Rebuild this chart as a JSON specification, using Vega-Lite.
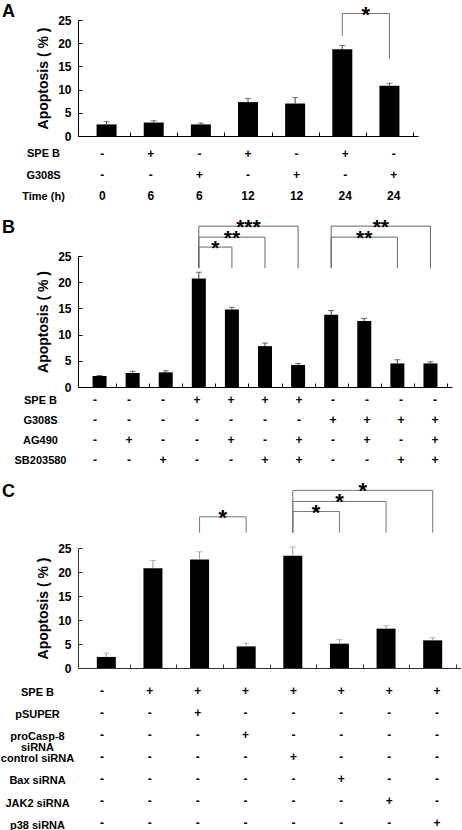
{
  "$schema": "https://vega.github.io/schema/vega-lite/v6.json",
  "padding": {"left": 0, "top": 2, "right": 0, "bottom": 0},
  "background": "white",
  "bounds": "flush",
  "spacing": 0,
  "resolve": {"scale": {"x": "independent", "y": "independent"}},
  "config": {
    "font": "Liberation Sans",
    "view": {"stroke": null},
    "axis": {"grid": false, "labelOverlap": false, "labelFont": "Liberation Sans", "labelFontWeight": "bold", "labelFontSize": 12, "labelColor": "black", "domainColor": "black", "tickColor": "black", "titleFont": "Liberation Sans", "titleFontWeight": "bold", "titleFontSize": 14, "titleColor": "black"},
    "title": {"font": "Liberation Sans", "fontWeight": "bold", "fontSize": 18, "color": "black", "anchor": "start", "frame": "group"}
  },
  "datasets": {
    "A": [
      {"pos": 1, "SPE B": "-", "G308S": "-", "Time (h)": "0", "value": 2.5, "upper": 3.1},
      {"pos": 2, "SPE B": "+", "G308S": "-", "Time (h)": "6", "value": 2.9, "upper": 3.3},
      {"pos": 3, "SPE B": "-", "G308S": "+", "Time (h)": "6", "value": 2.5, "upper": 2.8},
      {"pos": 4, "SPE B": "+", "G308S": "-", "Time (h)": "12", "value": 7.3, "upper": 8.1},
      {"pos": 5, "SPE B": "-", "G308S": "+", "Time (h)": "12", "value": 7.0, "upper": 8.3},
      {"pos": 6, "SPE B": "+", "G308S": "-", "Time (h)": "24", "value": 18.7, "upper": 19.5},
      {"pos": 7, "SPE B": "-", "G308S": "+", "Time (h)": "24", "value": 10.85, "upper": 11.35}
    ],
    "B": [
      {"pos": 1, "SPE B": "-", "G308S": "-", "AG490": "-", "SB203580": "-", "value": 2.1, "upper": 2.2},
      {"pos": 2, "SPE B": "-", "G308S": "-", "AG490": "+", "SB203580": "-", "value": 2.67, "upper": 3.0},
      {"pos": 3, "SPE B": "-", "G308S": "-", "AG490": "-", "SB203580": "+", "value": 2.8, "upper": 3.1},
      {"pos": 4, "SPE B": "+", "G308S": "-", "AG490": "-", "SB203580": "-", "value": 20.7, "upper": 21.9},
      {"pos": 5, "SPE B": "+", "G308S": "-", "AG490": "+", "SB203580": "-", "value": 14.8, "upper": 15.2},
      {"pos": 6, "SPE B": "+", "G308S": "-", "AG490": "-", "SB203580": "+", "value": 7.8, "upper": 8.4},
      {"pos": 7, "SPE B": "+", "G308S": "-", "AG490": "+", "SB203580": "+", "value": 4.2, "upper": 4.5},
      {"pos": 8, "SPE B": "-", "G308S": "+", "AG490": "-", "SB203580": "-", "value": 13.8, "upper": 14.6},
      {"pos": 9, "SPE B": "-", "G308S": "+", "AG490": "+", "SB203580": "-", "value": 12.6, "upper": 13.1},
      {"pos": 10, "SPE B": "-", "G308S": "+", "AG490": "-", "SB203580": "+", "value": 4.5, "upper": 5.2},
      {"pos": 11, "SPE B": "-", "G308S": "+", "AG490": "+", "SB203580": "+", "value": 4.5, "upper": 4.8}
    ],
    "C": [
      {"pos": 1, "SPE B": "-", "pSUPER": "-", "proCasp-8 siRNA": "-", "control siRNA": "-", "Bax siRNA": "-", "JAK2 siRNA": "-", "p38 siRNA": "-", "value": 2.3, "upper": 3.1},
      {"pos": 2, "SPE B": "+", "pSUPER": "-", "proCasp-8 siRNA": "-", "control siRNA": "-", "Bax siRNA": "-", "JAK2 siRNA": "-", "p38 siRNA": "-", "value": 20.8, "upper": 22.4},
      {"pos": 3, "SPE B": "+", "pSUPER": "+", "proCasp-8 siRNA": "-", "control siRNA": "-", "Bax siRNA": "-", "JAK2 siRNA": "-", "p38 siRNA": "-", "value": 22.6, "upper": 24.2},
      {"pos": 4, "SPE B": "+", "pSUPER": "-", "proCasp-8 siRNA": "+", "control siRNA": "-", "Bax siRNA": "-", "JAK2 siRNA": "-", "p38 siRNA": "-", "value": 4.5, "upper": 5.2},
      {"pos": 5, "SPE B": "+", "pSUPER": "-", "proCasp-8 siRNA": "-", "control siRNA": "+", "Bax siRNA": "-", "JAK2 siRNA": "-", "p38 siRNA": "-", "value": 23.4, "upper": 25.2},
      {"pos": 6, "SPE B": "+", "pSUPER": "-", "proCasp-8 siRNA": "-", "control siRNA": "-", "Bax siRNA": "+", "JAK2 siRNA": "-", "p38 siRNA": "-", "value": 5.07, "upper": 5.9},
      {"pos": 7, "SPE B": "+", "pSUPER": "-", "proCasp-8 siRNA": "-", "control siRNA": "-", "Bax siRNA": "-", "JAK2 siRNA": "+", "p38 siRNA": "-", "value": 8.2, "upper": 8.8},
      {"pos": 8, "SPE B": "+", "pSUPER": "-", "proCasp-8 siRNA": "-", "control siRNA": "-", "Bax siRNA": "-", "JAK2 siRNA": "-", "p38 siRNA": "+", "value": 5.76, "upper": 6.3}
    ],
    "rowsA": [{"row": "SPE B", "idx": 1}, {"row": "G308S", "idx": 2}, {"row": "Time (h)", "idx": 3}],
    "rowsB": [{"row": "SPE B", "idx": 1}, {"row": "G308S", "idx": 2}, {"row": "AG490", "idx": 3}, {"row": "SB203580", "idx": 4}],
    "rowsC": [{"row": "SPE B", "idx": 1}, {"row": "pSUPER", "idx": 2}, {"row": "proCasp-8 siRNA", "idx": 3}, {"row": "control siRNA", "idx": 4}, {"row": "Bax siRNA", "idx": 5}, {"row": "JAK2 siRNA", "idx": 6}, {"row": "p38 siRNA", "idx": 7}],
    "sigA": [
      {"from": 6, "to": 7, "top": 26.4, "leftEnd": 21.55, "rightEnd": 16.6, "star": "*"}
    ],
    "sigB": [
      {"from": 4, "to": 5, "top": 26.7, "leftEnd": 22.7, "rightEnd": 22.7, "star": "*"},
      {"from": 4, "to": 6, "top": 28.6, "leftEnd": 22.7, "rightEnd": 22.7, "star": "**"},
      {"from": 4, "to": 7, "top": 30.7, "leftEnd": 22.7, "rightEnd": 22.7, "star": "***"},
      {"from": 8, "to": 11, "top": 30.7, "leftEnd": 22.7, "rightEnd": 22.7, "star": "**"},
      {"from": 8, "to": 10, "top": 28.6, "leftEnd": 22.7, "rightEnd": 22.7, "star": "**"}
    ],
    "sigC": [
      {"from": 3, "to": 4, "top": 31.5, "leftEnd": 28.2, "rightEnd": 28.2, "star": "*"},
      {"from": 5, "to": 6, "top": 32.6, "leftEnd": 28.2, "rightEnd": 28.2, "star": "*"},
      {"from": 5, "to": 7, "top": 34.7, "leftEnd": 28.2, "rightEnd": 28.2, "star": "*"},
      {"from": 5, "to": 8, "top": 37.0, "leftEnd": 28.2, "rightEnd": 28.2, "star": "*"}
    ]
  },
  "vconcat": [
    {
      "width": 340, "height": 116,
      "title": {"text": "A", "dx": -76, "offset": -17},
      "layer": [
        {"data": {"name": "A"}, "mark": {"type": "bar", "size": 20, "color": "black"},
         "encoding": {
           "x": {"field": "pos", "type": "quantitative", "title": null, "scale": {"domain": [0.5, 7.5], "nice": false, "zero": false},
                 "axis": {"values": [1.5, 2.5, 3.5, 4.5, 5.5, 6.5, 7.5], "tickCount": 30, "labels": false, "tickSize": -4, "title": null}},
           "y": {"field": "value", "type": "quantitative", "scale": {"domain": [0, 25], "nice": false},
                 "axis": {"values": [0, 5, 10, 15, 20, 25], "tickCount": 30, "labelOverlap": false, "tickSize": -4, "labelPadding": 11, "title": "Apoptosis ( % )", "titlePadding": 7}}}},
        {"data": {"name": "A"}, "mark": {"type": "rule", "color": "#444", "strokeWidth": 1},
         "encoding": {"x": {"field": "pos", "type": "quantitative", "title": null}, "y": {"field": "value", "type": "quantitative"}, "y2": {"field": "upper"}}},
        {"data": {"name": "A"}, "mark": {"type": "tick", "orient": "horizontal", "size": 6, "thickness": 1, "color": "#444"},
         "encoding": {"x": {"field": "pos", "type": "quantitative", "title": null}, "y": {"field": "upper", "type": "quantitative"}}},
        {"data": {"name": "sigA"}, "mark": {"type": "rule", "color": "#777", "strokeWidth": 1},
         "encoding": {"x": {"field": "from", "type": "quantitative", "title": null}, "x2": {"field": "to"}, "y": {"field": "top", "type": "quantitative"}}},
        {"data": {"name": "sigA"}, "mark": {"type": "rule", "color": "#777", "strokeWidth": 1},
         "encoding": {"x": {"field": "from", "type": "quantitative", "title": null}, "y": {"field": "leftEnd", "type": "quantitative"}, "y2": {"field": "top"}}},
        {"data": {"name": "sigA"}, "mark": {"type": "rule", "color": "#777", "strokeWidth": 1},
         "encoding": {"x": {"field": "to", "type": "quantitative", "title": null}, "y": {"field": "rightEnd", "type": "quantitative"}, "y2": {"field": "top"}}},
        {"data": {"name": "sigA"}, "transform": [{"calculate": "(datum.from + datum.to) / 2", "as": "mid"}],
         "mark": {"type": "text", "fontSize": 22, "fontWeight": "bold", "baseline": "alphabetic", "dy": 8, "color": "black"},
         "encoding": {"x": {"field": "mid", "type": "quantitative", "title": null}, "y": {"field": "top", "type": "quantitative"}, "text": {"field": "star"}}}
      ]
    },
    {
      "width": 340, "height": 120,
      "data": {"name": "A"},
      "transform": [
        {"fold": ["SPE B", "G308S", "Time (h)"], "as": ["row", "sign"]},
        {"lookup": "row", "from": {"data": {"name": "rowsA"}, "key": "row", "fields": ["idx"]}}
      ],
      "mark": {"type": "text", "fontSize": 12, "fontWeight": "bold", "color": "black", "baseline": "middle"},
      "encoding": {
        "x": {"field": "pos", "type": "quantitative", "scale": {"domain": [0.5, 7.5], "nice": false, "zero": false}, "axis": null},
        "y": {"field": "idx", "type": "quantitative", "scale": {"domain": [0.1429, 5.857], "nice": false, "zero": false, "reverse": true},
              "axis": {"title": null, "domain": false, "ticks": false, "values": [1, 2, 3], "tickCount": 30, "labelAlign": "center", "labelPadding": 35, "labelFontSize": 11,
                       "labelExpr": "['', 'SPE B', 'G308S', 'Time (h)'][datum.value]"}},
        "text": {"field": "sign"}
      }
    },
    {
      "width": 374, "height": 131,
      "title": {"text": "B", "dx": -76, "offset": -20},
      "layer": [
        {"data": {"name": "B"}, "mark": {"type": "bar", "size": 14, "color": "black"},
         "encoding": {
           "x": {"field": "pos", "type": "quantitative", "title": null, "scale": {"domain": [0.5, 11.5], "nice": false, "zero": false},
                 "axis": {"values": [1.5, 2.5, 3.5, 4.5, 5.5, 6.5, 7.5, 8.5, 9.5, 10.5, 11.5], "tickCount": 30, "labels": false, "tickSize": -4, "title": null}},
           "y": {"field": "value", "type": "quantitative", "scale": {"domain": [0, 25], "nice": false},
                 "axis": {"values": [0, 5, 10, 15, 20, 25], "tickCount": 30, "labelOverlap": false, "tickSize": -4, "labelPadding": 11, "title": "Apoptosis ( % )", "titlePadding": 7}}}},
        {"data": {"name": "B"}, "mark": {"type": "rule", "color": "#333", "strokeWidth": 1},
         "encoding": {"x": {"field": "pos", "type": "quantitative", "title": null}, "y": {"field": "value", "type": "quantitative"}, "y2": {"field": "upper"}}},
        {"data": {"name": "B"}, "mark": {"type": "tick", "orient": "horizontal", "size": 6, "thickness": 1, "color": "#333"},
         "encoding": {"x": {"field": "pos", "type": "quantitative", "title": null}, "y": {"field": "upper", "type": "quantitative"}}},
        {"data": {"name": "sigB"}, "mark": {"type": "rule", "color": "#666", "strokeWidth": 1},
         "encoding": {"x": {"field": "from", "type": "quantitative", "title": null}, "x2": {"field": "to"}, "y": {"field": "top", "type": "quantitative"}}},
        {"data": {"name": "sigB"}, "mark": {"type": "rule", "color": "#666", "strokeWidth": 1},
         "encoding": {"x": {"field": "from", "type": "quantitative", "title": null}, "y": {"field": "leftEnd", "type": "quantitative"}, "y2": {"field": "top"}}},
        {"data": {"name": "sigB"}, "mark": {"type": "rule", "color": "#666", "strokeWidth": 1},
         "encoding": {"x": {"field": "to", "type": "quantitative", "title": null}, "y": {"field": "rightEnd", "type": "quantitative"}, "y2": {"field": "top"}}},
        {"data": {"name": "sigB"}, "transform": [{"calculate": "(datum.from + datum.to) / 2", "as": "mid"}],
         "mark": {"type": "text", "fontSize": 21, "fontWeight": "bold", "baseline": "alphabetic", "dy": 8, "color": "black"},
         "encoding": {"x": {"field": "mid", "type": "quantitative", "title": null}, "y": {"field": "top", "type": "quantitative"}, "text": {"field": "star"}}}
      ]
    },
    {
      "width": 374, "height": 161,
      "data": {"name": "B"},
      "transform": [
        {"fold": ["SPE B", "G308S", "AG490", "SB203580"], "as": ["row", "sign"]},
        {"lookup": "row", "from": {"data": {"name": "rowsB"}, "key": "row", "fields": ["idx"]}}
      ],
      "mark": {"type": "text", "fontSize": 12, "fontWeight": "bold", "color": "black", "baseline": "middle"},
      "encoding": {
        "x": {"field": "pos", "type": "quantitative", "scale": {"domain": [0.5, 11.5], "nice": false, "zero": false}, "axis": null},
        "y": {"field": "idx", "type": "quantitative", "scale": {"domain": [0.33, 8.38], "nice": false, "zero": false, "reverse": true},
              "axis": {"title": null, "domain": false, "ticks": false, "values": [1, 2, 3, 4], "tickCount": 30, "labelAlign": "center", "labelPadding": 38, "labelFontSize": 11,
                       "labelExpr": "['', 'SPE B', 'G308S', 'AG490', 'SB203580'][datum.value]"}},
        "text": {"field": "sign"}
      }
    },
    {
      "width": 383, "height": 120,
      "title": {"text": "C", "dx": -76, "offset": -21},
      "layer": [
        {"data": {"name": "C"}, "mark": {"type": "bar", "size": 19, "color": "black"},
         "encoding": {
           "x": {"field": "pos", "type": "quantitative", "title": null, "scale": {"domain": [0.5, 8.5], "nice": false, "zero": false},
                 "axis": {"values": [1.5, 2.5, 3.5, 4.5, 5.5, 6.5, 7.5, 8.5], "tickCount": 30, "labels": false, "tickSize": -4, "title": null, "domainColor": "#333", "tickColor": "#333"}},
           "y": {"field": "value", "type": "quantitative", "scale": {"domain": [0, 25], "nice": false},
                 "axis": {"values": [0, 5, 10, 15, 20, 25], "tickCount": 30, "labelOverlap": false, "tickSize": -4, "labelPadding": 11, "title": "Apoptosis ( % )", "titlePadding": 7, "domainColor": "#333", "tickColor": "#333"}}}},
        {"data": {"name": "C"}, "mark": {"type": "rule", "color": "#999", "strokeWidth": 1},
         "encoding": {"x": {"field": "pos", "type": "quantitative", "title": null}, "y": {"field": "value", "type": "quantitative"}, "y2": {"field": "upper"}}},
        {"data": {"name": "C"}, "mark": {"type": "tick", "orient": "horizontal", "size": 6, "thickness": 1, "color": "#999"},
         "encoding": {"x": {"field": "pos", "type": "quantitative", "title": null}, "y": {"field": "upper", "type": "quantitative"}}},
        {"data": {"name": "sigC"}, "mark": {"type": "rule", "color": "#777", "strokeWidth": 1},
         "encoding": {"x": {"field": "from", "type": "quantitative", "title": null}, "x2": {"field": "to"}, "y": {"field": "top", "type": "quantitative"}}},
        {"data": {"name": "sigC"}, "mark": {"type": "rule", "color": "#777", "strokeWidth": 1},
         "encoding": {"x": {"field": "from", "type": "quantitative", "title": null}, "y": {"field": "leftEnd", "type": "quantitative"}, "y2": {"field": "top"}}},
        {"data": {"name": "sigC"}, "mark": {"type": "rule", "color": "#777", "strokeWidth": 1},
         "encoding": {"x": {"field": "to", "type": "quantitative", "title": null}, "y": {"field": "rightEnd", "type": "quantitative"}, "y2": {"field": "top"}}},
        {"data": {"name": "sigC"}, "transform": [{"calculate": "(datum.from + datum.to) / 2", "as": "mid"}],
         "mark": {"type": "text", "fontSize": 22, "fontWeight": "bold", "baseline": "alphabetic", "dy": 8, "color": "black"},
         "encoding": {"x": {"field": "mid", "type": "quantitative", "title": null}, "y": {"field": "top", "type": "quantitative"}, "text": {"field": "star"}}}
      ]
    },
    {
      "width": 383, "height": 162,
      "data": {"name": "C"},
      "transform": [
        {"fold": ["SPE B", "pSUPER", "proCasp-8 siRNA", "control siRNA", "Bax siRNA", "JAK2 siRNA", "p38 siRNA"], "as": ["row", "sign"]},
        {"lookup": "row", "from": {"data": {"name": "rowsC"}, "key": "row", "fields": ["idx"]}}
      ],
      "mark": {"type": "text", "fontSize": 12, "fontWeight": "bold", "color": "black", "baseline": "middle"},
      "encoding": {
        "x": {"field": "pos", "type": "quantitative", "scale": {"domain": [0.5, 8.5], "nice": false, "zero": false}, "axis": null},
        "y": {"field": "idx", "type": "quantitative", "scale": {"domain": [-0.045, 7.318], "nice": false, "zero": false, "reverse": true},
              "axis": {"title": null, "domain": false, "ticks": false, "values": [1, 2, 3, 4, 5, 6, 7], "tickCount": 30, "labelAlign": "center", "labelPadding": 41, "labelFontSize": 11, "labelLineHeight": 11, "labelOffset": 2,
                       "labelExpr": "['', 'SPE B', 'pSUPER', ['proCasp-8', 'siRNA'], 'control siRNA', 'Bax siRNA', 'JAK2 siRNA', 'p38 siRNA'][datum.value]"}},
        "text": {"field": "sign"}
      }
    }
  ]
}
